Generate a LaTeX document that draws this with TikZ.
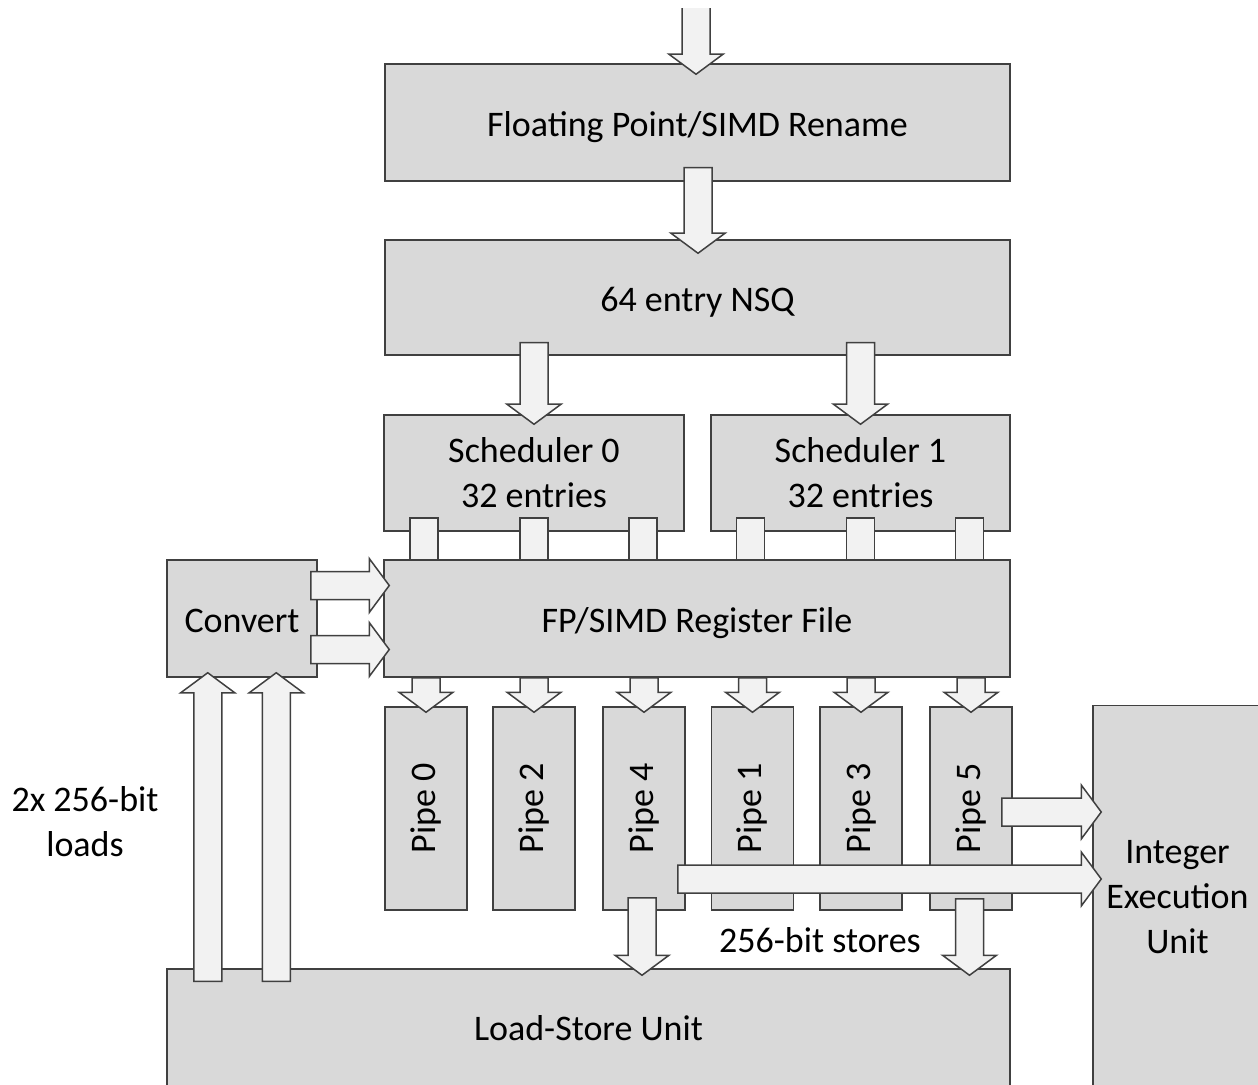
\documentclass[tikz,border=0pt]{standalone}
\usepackage{fontspec}
\setmainfont{Carlito}
\usetikzlibrary{calc}

\definecolor{linegray}{RGB}{64,64,64}
\definecolor{boxgray}{RGB}{217,217,217}
\definecolor{arrowgray}{RGB}{242,242,242}

% block arrow from tail #1 to tip #2
\newcommand{\blockarrow}[2]{%
  \coordinate (ba-t) at #1;
  \coordinate (ba-h) at #2;
  \coordinate (ba-n) at ($(ba-h)!10pt!(ba-t)$);
  \draw[arrowfill] ($(ba-t)!7pt!90:(ba-h)$) -- ($(ba-n)!7pt!90:(ba-h)$)
    -- ($(ba-n)!13.5pt!90:(ba-h)$) -- (ba-h) -- ($(ba-n)!13.5pt!-90:(ba-h)$)
    -- ($(ba-n)!7pt!-90:(ba-h)$) -- ($(ba-t)!7pt!-90:(ba-h)$) -- cycle;}

\begin{document}
\begin{tikzpicture}[x=0.5pt,y=-0.5pt,
  font=\fontsize{18}{22.5}\selectfont,
  box/.style={draw=linegray, fill=boxgray, line width=0.75pt, inner sep=0pt, align=center},
  oneline/.style={text height=17pt, text depth=3pt},
  arrowfill/.style={draw=linegray, fill=arrowgray, line width=0.75pt, line join=miter}]

\clip (0,0) rectangle (1258,1085);

% Rename and queue
\node[box, oneline, minimum width=312.5pt, minimum height=58.5pt] (rename) at (697.5,122.5)
{Floating Point/SIMD Rename};
\node[box, oneline, minimum width=312.5pt, minimum height=57.5pt] (nsq) at (697.5,297.5)
{64 entry NSQ};

% Schedulers
\node[box, minimum width=150pt, minimum height=58pt] (sched0) at (534,473)
{Scheduler 0\\32 entries};
\node[box, minimum width=149.5pt, minimum height=58pt] (sched1) at (860.5,473)
{Scheduler 1\\32 entries};

% Register file and convert
\node[box, oneline, minimum width=313pt, minimum height=58.5pt] (regfile) at (697,618.5)
{FP/SIMD Register File};
\node[box, oneline, minimum width=75pt, minimum height=58.5pt] (convert) at (242,618.5)
{Convert};

% Pipes
\foreach \n/\xx in {0/426,2/534,4/644,1/752.5,3/861,5/971}{
  \node[box, minimum width=41pt, minimum height=101.5pt] (p\n) at (\xx,808.5) {};
  \node[rotate=90] (p\n-name) at (p\n) {Pipe \n};
}

% Load-store and integer units
\node[box, minimum width=421.5pt, minimum height=59pt] (lsu) at (588.5,1028)
{Load-Store Unit};
\node[box, minimum width=84.5pt, minimum height=191.5pt] (integer) at (1177.5,897)
{Integer\\Execution\\Unit};

% Labels
\node[align=center] (loads) at (85,822) {2x 256-bit\\loads};
\node (stores) at (820,940) {256-bit stores};

% Arrows
\begin{scope}
\clip (0,9) rectangle (1258,200);
\coordinate (in) at (696,0);
\blockarrow{(in)}{($(rename.north)+(-1.5,11)$)}
\end{scope}
\blockarrow{($(rename.south)+(0.5,-14)$)}{($(nsq.north)+(0.5,14)$)}

\foreach \s in {sched0,sched1}{
  \blockarrow{($(nsq.south -| \s.north)+(0,-13)$)}{($(\s.north)+(0,10)$)}
}

\foreach \s in {sched0,sched1}{
  \foreach \dx in {-110,0,109}{
    \draw[arrowfill] ($(\s.south)+(\dx-14,-14)$) rectangle ($(regfile.north -| \s.south)+(\dx+14,0)$);
  }
}

\foreach \n in {0,...,5}{
  \blockarrow{(regfile.south -| p\n.north)}{($(p\n.north)+(0,6)$)}
}

\foreach \dy in {-33,31}{
  \blockarrow{($(convert.east)+(-7,\dy)$)}{($(regfile.west)+(6,\dy)$)}
}

\foreach \dx in {41.5,110}{
  \blockarrow{($(lsu.north west)+(\dx,13)$)}{($(convert.south west)+(\dx,-5)$)}
}

\blockarrow{($(p5.east)+(-11,3.5)$)}{($(integer.west |- p5.east)+(9,3.5)$)}
\blockarrow{($(p4.east)+(-8,70.5)$)}{($(integer.west |- p4.east)+(9,70.5)$)}

\blockarrow{($(p4.south)+(-2,-13)$)}{($(lsu.north -| p4.south)+(-2,7)$)}
\blockarrow{($(p5.south)+(-1.5,-12)$)}{($(lsu.north -| p5.south)+(-1.5,7)$)}

\end{tikzpicture}
\end{document}
